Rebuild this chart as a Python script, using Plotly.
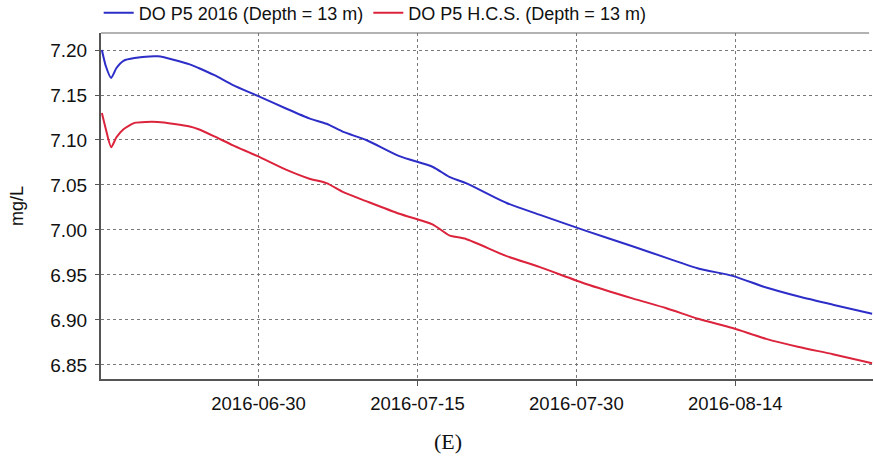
import plotly.graph_objects as go

# Sample times (shared by both series)
times = [
    "2016-06-15 05:00", "2016-06-15 14:00", "2016-06-16 02:00", "2016-06-16 14:00",
    "2016-06-17 06:00", "2016-06-18 07:00", "2016-06-20 12:00", "2016-06-23 12:00",
    "2016-06-24 08:00", "2016-06-25 20:00", "2016-06-27 14:00", "2016-06-29 22:00",
    "2016-07-02 14:00", "2016-07-04 19:00", "2016-07-06 10:00", "2016-07-08 00:00",
    "2016-07-10 04:00", "2016-07-13 07:00", "2016-07-16 11:00", "2016-07-18 00:00",
    "2016-07-19 14:00", "2016-07-23 10:00", "2016-07-26 12:00", "2016-07-30 22:00",
    "2016-08-04 07:00", "2016-08-07 12:00", "2016-08-10 14:00", "2016-08-13 18:00",
    "2016-08-16 22:00", "2016-08-20 00:00", "2016-08-23 05:00", "2016-08-26 22:00",
]

# Dissolved oxygen, 2016 scenario (mg/L)
do_2016 = [
    7.200, 7.182, 7.169, 7.180, 7.188, 7.191, 7.193, 7.184,
    7.180, 7.172, 7.161, 7.149, 7.135, 7.124, 7.118, 7.109,
    7.100, 7.082, 7.070, 7.059, 7.052, 7.030, 7.017, 6.999,
    6.982, 6.969, 6.957, 6.949, 6.936, 6.926, 6.917, 6.907,
]

# Dissolved oxygen, H.C.S. scenario (mg/L)
do_hcs = [
    7.130, 7.112, 7.092, 7.103, 7.112, 7.119, 7.120, 7.115,
    7.112, 7.104, 7.094, 7.082, 7.067, 7.057, 7.052, 7.042,
    7.032, 7.018, 7.006, 6.994, 6.990, 6.971, 6.959, 6.940,
    6.924, 6.913, 6.901, 6.891, 6.879, 6.870, 6.862, 6.852,
]

y_ticks = [6.85, 6.90, 6.95, 7.00, 7.05, 7.10, 7.15, 7.20]
x_ticks = ["2016-06-30", "2016-07-15", "2016-07-30", "2016-08-14"]

series_names = ["DO P5 2016 (Depth = 13 m)", "DO P5 H.C.S. (Depth = 13 m)"]
series_colors = ["rgb(45,45,200)", "rgb(220,35,60)"]

fig = go.Figure()
for name, vals, col in zip(series_names, [do_2016, do_hcs], series_colors):
    fig.add_trace(go.Scatter(
        x=times, y=vals, name=name, mode="lines",
        line=dict(color=col, width=2, shape="spline", smoothing=0.6),
    ))

grid_col = "rgb(120,120,120)"
fig.update_layout(
    width=874, height=456,
    margin=dict(l=101, r=1, t=33, b=77, autoexpand=False),
    paper_bgcolor="white", plot_bgcolor="white",
    font=dict(family="Liberation Sans, Arial, sans-serif", size=18, color="#111"),
    showlegend=True,
    legend=dict(
        orientation="h", x=-0.003, xanchor="left",
        y=1.004, yanchor="bottom",
        font=dict(size=18), bgcolor="rgba(0,0,0,0)", itemwidth=30,
        tracegroupgap=0,
    ),
    xaxis=dict(
        type="date",
        range=["2016-06-15 03:00", "2016-08-27 00:00"],
        tickvals=x_ticks, ticktext=x_ticks,
        tickfont=dict(size=18.5),
        ticks="outside", ticklen=5, tickcolor="#555", ticklabelstandoff=2,
        showgrid=True, gridcolor=grid_col, griddash="dot", gridwidth=1,
        showline=True, linecolor="#555", linewidth=2,
        zeroline=False,
    ),
    yaxis=dict(
        range=[6.8344, 7.2189],
        tickvals=y_ticks, tickformat=".2f",
        tickfont=dict(size=19),
        ticks="outside", ticklen=4, tickcolor="#555", ticklabelstandoff=4,
        showgrid=True, gridcolor=grid_col, griddash="dot", gridwidth=1,
        showline=True, linecolor="#555", linewidth=2,
        zeroline=False,
        title=dict(text="mg/L", font=dict(size=18), standoff=22),
    ),
    shapes=[dict(type="line", xref="paper", yref="paper", x0=0, x1=0.995, y0=1, y1=1,
                 line=dict(color="#666", width=1))],
    annotations=[dict(text="(E)", xref="paper", yref="paper", x=0.449, y=-0.182,
                      xanchor="center", yanchor="middle", showarrow=False,
                      font=dict(family="Liberation Serif, Times New Roman, serif", size=22, color="#111"))],
)

fig.write_html("out.html")
